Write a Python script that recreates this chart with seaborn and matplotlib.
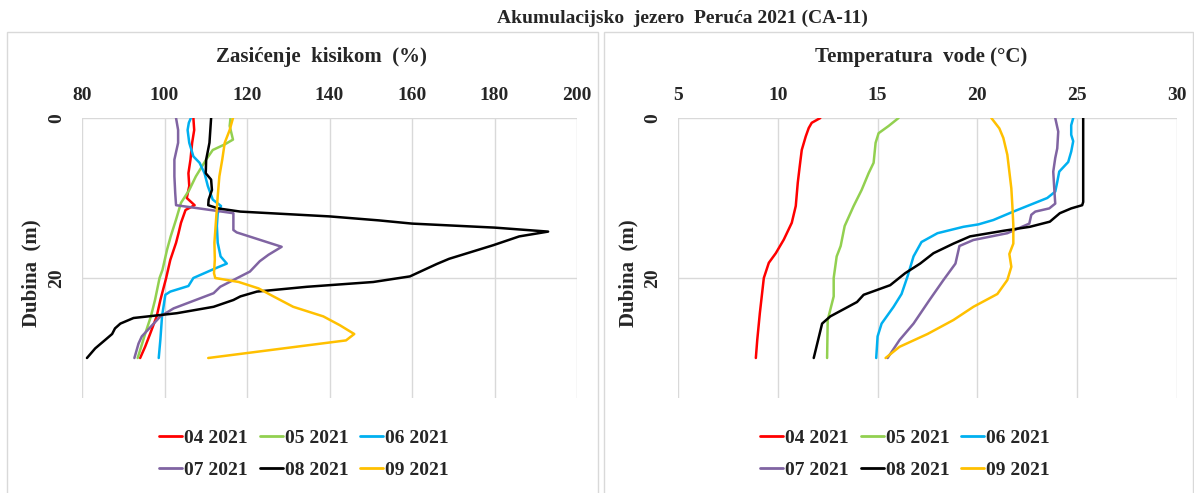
import pandas as pd
import matplotlib.pyplot as plt
import seaborn as sns
from matplotlib.patches import Rectangle
from matplotlib.lines import Line2D

# Mjeseci i boje serija
mjeseci = ['04 2021', '05 2021', '06 2021', '07 2021', '08 2021', '09 2021']
boje = ['#FF0000', '#92D050', '#00B0F0', '#8064A2', '#000000', '#FFC000']

# Zasićenje kisikom (%) - dubina (m) i vrijednosti po mjesecima
o2_dub_04 = [0, 1.5, 3.1, 5.2, 6.9, 8.5, 10, 10.9, 11.5, 13.1, 14.4, 15.6, 17.75, 20, 22.75, 24.8, 27, 28.6, 30]
o2_04 = [107, 107.2, 106.7, 106.3, 105.8, 106, 105.4, 107.3, 105.1, 104, 103.4, 102.8, 101.4, 100.4, 99, 98.1, 96.5, 95.3, 94.1]
o2_dub_05 = [0, 1.0, 2.7, 3.3, 4, 5.2, 7.3, 9, 10.6, 12.7, 14.8, 16.5, 19, 20, 22.75, 24.8, 27, 30]
o2_05 = [116, 115.8, 116.6, 114.6, 111.7, 110.1, 107.6, 106, 104, 102.8, 101.5, 100.6, 99.5, 98.8, 97.7, 96.7, 95.3, 93.5]
o2_dub_06 = [0, 0.6, 1.5, 3.1, 4.8, 5.6, 6.9, 8.5, 10.2, 11, 11.9, 13.5, 15.6, 17.3, 18.2, 18.8, 20, 21, 21.7, 22.1, 24.8, 27.7, 30]
o2_06 = [106.4, 105.9, 105.6, 106, 107, 108.5, 109.7, 110.5, 111.7, 113.7, 112.9, 112.7, 112.9, 113.6, 115.1, 112.3, 107, 105.8, 101.4, 100.2, 99.4, 99, 98.6]
o2_dub_07 = [0, 1.5, 3.1, 5.2, 7.3, 9.4, 10.9, 11.9, 14, 14.3, 16.1, 17.1, 17.9, 19.2, 21.1, 21.9, 23.8, 24.8, 27.3, 28.2, 30]
o2_07 = [102.8, 103.3, 103.3, 102.4, 102.4, 102.6, 102.8, 116.7, 116.7, 117.5, 128.4, 125.2, 123.1, 120.7, 113.5, 111.9, 102.2, 99, 94.5, 93.7, 92.7]
o2_dub_08 = [0, 3.1, 5.2, 6.9, 7.7, 9, 10.2, 10.9, 11.3, 11.7, 12.3, 12.8, 13.2, 13.7, 14.2, 14.8, 15.9, 17.6, 18.25, 19.8,
             20.5, 21.1, 21.7, 22.3, 22.75, 23.6, 24.4, 25, 25.7, 26.3, 27, 27.75, 28.8, 30]
o2_08 = [111.3, 110.9, 110.1, 110, 111.3, 111.5, 110.7, 110.6, 113, 118.4, 140, 152, 160, 180, 193, 186, 179.7, 169, 166, 159.5,
         150.6, 134.5, 122.4, 118.4, 116.7, 111.9, 103, 92.5, 89.3, 88, 87.3, 85.6, 83.2, 81.2]
o2_dub_09 = [0, 1.5, 3.1, 5.2, 7.3, 9.8, 12.7, 15.6, 17.7, 19.4, 20, 20.5, 21.3, 22.3, 23.6, 24.8, 25.9, 27, 27.8, 30]
o2_09 = [116.6, 115.8, 114.6, 114, 113.3, 112.9, 112.5, 112.1, 112.2, 112, 112.3, 118, 122.8, 126.4, 131.2, 138.5, 142.5, 146, 144, 110.6]

# Temperatura vode (°C)
t_dub_04 = [0, 0.6, 1.25, 2.3, 4, 6, 8.1, 11, 13.1, 15.2, 16.9, 18.1, 20, 24.4, 27.75, 30]
t_04 = [12.13, 11.7, 11.55, 11.4, 11.2, 11.1, 11.0, 10.9, 10.7, 10.3, 9.9, 9.55, 9.3, 9.1, 8.97, 8.9]
t_dub_05 = [0, 1, 1.9, 3.1, 5.6, 6.9, 9, 11, 13.5, 16, 17.3, 20, 22.3, 25.25, 30]
t_05 = [16.05, 15.55, 15.05, 14.9, 14.8, 14.55, 14.2, 13.8, 13.35, 13.15, 12.95, 12.8, 12.8, 12.5, 12.47]
t_dub_06 = [0, 0.9, 2.1, 2.9, 4.2, 5.5, 6.7, 8, 9.2, 10, 10.7, 11.7, 12.75, 13.3, 13.6, 14.4, 15.5, 17.3, 19.8, 22, 23.6, 25.7, 27.3, 30]
t_06 = [24.8, 24.7, 24.7, 24.8, 24.7, 24.55, 24.1, 24, 23.9, 23.5, 22.8, 21.8, 20.8, 20.05, 19.3, 18, 17.2, 16.8, 16.5, 16.2, 15.8, 15.2, 15, 14.93]
t_dub_07 = [0, 1.7, 3.8, 5, 6.7, 8.8, 10.7, 11.3, 11.7, 12.1, 13.2, 14.4, 15.25, 16, 18.2, 20.25, 22.75, 25.7, 27.75, 30]
t_07 = [23.9, 24.05, 24, 23.9, 23.8, 23.85, 23.9, 23.6, 22.9, 22.7, 22.6, 21.5, 19.8, 19.1, 18.9, 18.3, 17.6, 16.8, 16.1, 15.5]
t_dub_08 = [0, 10.5, 10.9, 11.3, 11.9, 12.96, 13.6, 14.1, 14.8, 15.7, 16.9, 18.2, 19.4, 20.9, 22.1, 23, 24.8, 25.7, 30]
t_08 = [25.3, 25.3, 25.25, 24.7, 24.13, 23.63, 22.63, 21.3, 19.63, 18.8, 17.8, 17.13, 16.38, 15.63, 14.3, 13.97, 12.63, 12.22, 11.8]
t_dub_09 = [0, 1.3, 2.5, 4.6, 6.7, 8.8, 10.9, 13.4, 15.7, 17, 18.6, 20.25, 22, 23.6, 25.25, 27, 28.6, 30]
t_09 = [20.7, 21.1, 21.3, 21.5, 21.6, 21.7, 21.75, 21.8, 21.8, 21.6, 21.7, 21.5, 21.0, 19.8, 18.8, 17.5, 16.1, 15.4]


def napravi_df(dubine, vrijednosti):
    """Spaja liste po mjesecima u jedan DataFrame (long format)"""
    dijelovi = []
    for mj, d, v in zip(mjeseci, dubine, vrijednosti):
        dijelovi.append(pd.DataFrame({'dubina': d, 'vrijednost': v, 'mjesec': mj}))
    return pd.concat(dijelovi, ignore_index=True)


df_o2 = napravi_df([o2_dub_04, o2_dub_05, o2_dub_06, o2_dub_07, o2_dub_08, o2_dub_09],
                   [o2_04, o2_05, o2_06, o2_07, o2_08, o2_09])
df_t = napravi_df([t_dub_04, t_dub_05, t_dub_06, t_dub_07, t_dub_08, t_dub_09],
                  [t_04, t_05, t_06, t_07, t_08, t_09])

sns.set_style('white')
plt.rcParams['font.family'] = ['Liberation Serif', 'DejaVu Serif']
plt.rcParams['font.weight'] = 'bold'

W, H = 1194, 493
fig = plt.figure(figsize=(W / 100, H / 100), dpi=100)


def px(x, y):
    """Pikseli -> koordinate figure"""
    return x / W, 1 - y / H


def graficar_profil(df, lijevo, desno, xlim, xticks, naslov, naslov_x, okvir, legenda_x):
    x0, y0 = px(lijevo, 398)
    x1, y1 = px(desno, 118)
    ax = fig.add_axes([x0, y0, x1 - x0, y1 - y0])
    sns.lineplot(data=df, x='vrijednost', y='dubina', hue='mjesec', hue_order=mjeseci,
                 palette=boje, sort=False, estimator=None, linewidth=1.8, legend=False, ax=ax)
    ax.set_xlim(*xlim)
    ax.set_ylim(35, 0)
    ax.set_xticks(xticks)
    ax.set_yticks([0, 20])
    ax.set_yticklabels(['0', '20'], rotation=90, va='center')
    ax.xaxis.tick_top()
    ax.tick_params(axis='x', length=0, pad=10, labelsize=14)
    ax.tick_params(axis='y', length=0, pad=12, labelsize=14)
    ax.set_xlabel('')
    ax.set_ylabel('')
    ax.grid(color='#d9d9d9', linewidth=1)
    for s in ax.spines.values():
        s.set_visible(False)

    # okvir grafikona
    fx0, _ = px(okvir[0], 0)
    fx1, _ = px(okvir[1], 0)
    _, fy1 = px(0, 32)
    fig.add_artist(Rectangle((fx0, -0.01), fx1 - fx0, fy1 + 0.01, transform=fig.transFigure,
                             fill=False, edgecolor='#d9d9d9', linewidth=1))

    tx, ty = px(naslov_x, 57)
    fig.text(tx, ty, naslov, ha='center', va='center', fontsize=15, fontweight='bold')
    lx, ly = px(okvir[0] + 24, 273)
    fig.text(lx, ly, 'Dubina  (m)', rotation=90, ha='center', va='center', fontsize=15, fontweight='bold')

    # legenda red po red (matplotlib puni po stupcima)
    redoslijed = [0, 3, 1, 4, 2, 5]
    handles = [Line2D([], [], color=boje[i], linewidth=2) for i in redoslijed]
    labels = [mjeseci[i] for i in redoslijed]
    lgx, lgy = px(legenda_x, 454)
    ax.legend(handles, labels, ncol=3, loc='center', bbox_to_anchor=(lgx, lgy),
              bbox_transform=fig.transFigure, frameon=False, fontsize=14,
              handlelength=1.2, handletextpad=0.1, columnspacing=0.6, labelspacing=0.75)
    return ax


graficar_profil(df_o2, 82, 577, (80, 200), [80, 100, 120, 140, 160, 180, 200],
                'Zasićenje  kisikom  (%)', 321, (7, 598), 304)
graficar_profil(df_t, 678, 1177, (5, 30), [5, 10, 15, 20, 25, 30],
                'Temperatura  vode (°C)', 921, (604, 1193), 905)

sx, sy = px(682, 18)
fig.text(sx, sy, 'Akumulacijsko  jezero  Peruća 2021 (CA-11)', ha='center', va='center',
         fontsize=14, fontweight='bold')

fig.savefig('out.png', dpi=100)
